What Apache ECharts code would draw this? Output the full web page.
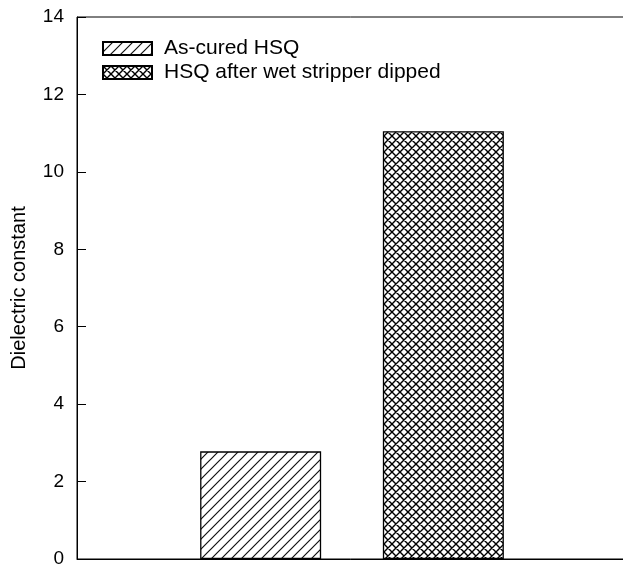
<!DOCTYPE html>
<html>
<head>
<meta charset="utf-8">
<script src="https://cdn.jsdelivr.net/npm/echarts@6/dist/echarts.min.js"></script>
<style>
  html, body { margin: 0; padding: 0; background: #fff; }
  #chart { width: 623px; height: 571px; }
</style>
</head>
<body>
<div id="chart"></div>
<script>
// Dielectric constant of HSQ film before and after wet-stripper dip
const categories = ['HSQ'];
const seriesNames = ['As-cured HSQ', 'HSQ after wet stripper dipped'];
const asCured = [2.78];
const afterStripper = [11.05];
const yTicks = { min: 0, max: 14, interval: 2 };

// Hatch tile: single diagonal "/" lines
function hatchTile(period, width) {
  const c = document.createElement('canvas');
  c.width = period; c.height = period;
  const g = c.getContext('2d');
  g.fillStyle = '#fff';
  g.fillRect(0, 0, period, period);
  g.strokeStyle = '#111';
  g.lineWidth = width;
  g.beginPath();
  g.moveTo(-1, period + 1); g.lineTo(period + 1, -1);
  g.moveTo(-1, 1); g.lineTo(1, -1);
  g.moveTo(period - 1, period + 1); g.lineTo(period + 1, period - 1);
  g.stroke();
  return c;
}

// Cross-hatch tile: "/" and "\" lines
function crossTile(period, width) {
  const c = document.createElement('canvas');
  c.width = period; c.height = period;
  const g = c.getContext('2d');
  g.fillStyle = '#fff';
  g.fillRect(0, 0, period, period);
  g.strokeStyle = '#000';
  g.lineWidth = width;
  g.beginPath();
  g.moveTo(-1, period + 1); g.lineTo(period + 1, -1);
  g.moveTo(-1, 1); g.lineTo(1, -1);
  g.moveTo(period - 1, period + 1); g.lineTo(period + 1, period - 1);
  g.moveTo(-1, -1); g.lineTo(period + 1, period + 1);
  g.moveTo(period - 1, -1); g.lineTo(period + 1, 1);
  g.moveTo(-1, period - 1); g.lineTo(1, period + 1);
  g.stroke();
  return c;
}

const font = '"Liberation Sans", Arial, Helvetica, sans-serif';
const chart = echarts.init(document.getElementById('chart'), null, { renderer: 'canvas' });

chart.setOption({
  animation: false,
  backgroundColor: '#fff',
  grid: {
    left: 77, top: 17, bottom: 12, width: 550,
    outerBoundsMode: 'none',
    containLabel: false,
    show: true, borderColor: '#000', borderWidth: 1, backgroundColor: 'transparent'
  },
  legend: {
    orient: 'vertical',
    left: 102, top: 38,
    padding: 0,
    icon: 'rect',
    itemWidth: 49, itemHeight: 13, itemGap: 3,
    textStyle: { fontFamily: font, fontSize: 21, color: '#000', lineHeight: 21, padding: [0, 0, 0, 7] },
    data: seriesNames
  },
  xAxis: {
    type: 'category',
    data: categories,
    axisLine: { show: true, lineStyle: { color: '#000', width: 1 } },
    axisTick: { show: false },
    axisLabel: { show: false }
  },
  yAxis: {
    type: 'value',
    min: yTicks.min, max: yTicks.max, interval: yTicks.interval,
    name: 'Dielectric constant',
    nameLocation: 'middle',
    nameGap: 48,
    nameTextStyle: { fontFamily: font, fontSize: 20, color: '#000' },
    axisLine: { show: true, lineStyle: { color: '#000', width: 1 } },
    axisTick: { show: true, inside: true, length: 9, lineStyle: { color: '#000' } },
    axisLabel: { fontFamily: font, fontSize: 19, color: '#000', margin: 13 },
    splitLine: { show: false }
  },
  series: [
    {
      name: seriesNames[0],
      type: 'bar',
      data: asCured,
      barWidth: 121,
      barGap: '51%',
      itemStyle: {
        color: { image: hatchTile(10, 1.2), repeat: 'repeat' },
        borderColor: '#000', borderWidth: 1.3
      }
    },
    {
      name: seriesNames[1],
      type: 'bar',
      data: afterStripper,
      barWidth: 121,
      itemStyle: {
        color: { image: crossTile(8, 1.4), repeat: 'repeat' },
        borderColor: '#000', borderWidth: 1.3
      }
    }
  ]
});
</script>
</body>
</html>
